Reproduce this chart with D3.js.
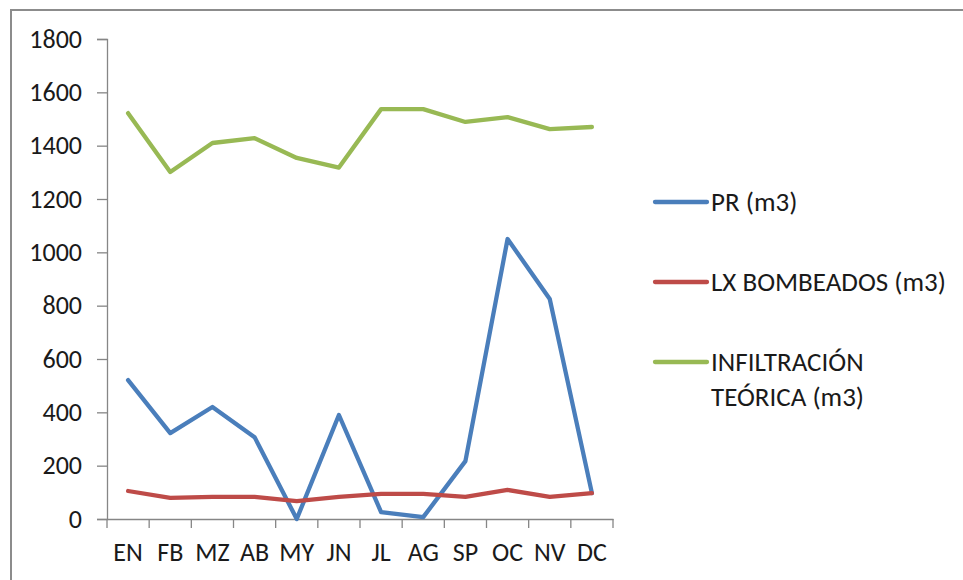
<!DOCTYPE html>
<html>
<head>
<meta charset="utf-8">
<script src="https://cdn.jsdelivr.net/npm/d3@7"></script>
<style>
  html, body { margin: 0; padding: 0; background: #fff; }
  svg { display: block; font-family: Carlito, Calibri, "Open Sans", sans-serif; }
</style>
</head>
<body>
<svg id="chart" width="963" height="580"></svg>
<script>
// Monthly volumes (m3)
const months = ["EN", "FB", "MZ", "AB", "MY", "JN", "JL", "AG", "SP", "OC", "NV", "DC"];
const prValues = [521, 322, 420, 307, 0, 390, 26, 7, 217, 1050, 825, 97];
const lxValues = [105, 79, 83, 83, 67, 83, 94, 94, 83, 109, 83, 97];
const infValues = [1522, 1301, 1410, 1428, 1354, 1318, 1537, 1537, 1489, 1507, 1462, 1470];
const yTicks = [0, 200, 400, 600, 800, 1000, 1200, 1400, 1600, 1800];
const seriesNames = [["PR (m3)"], ["LX BOMBEADOS (m3)"], ["INFILTRACIÓN", "TEÓRICA (m3)"]];
const seriesColors = ["#4A7EBB", "#BE4B48", "#98B954"];

const series = [prValues, lxValues, infValues].map((values, i) => ({
  name: seriesNames[i], color: seriesColors[i], values
}));

const svg = d3.select("#chart");
const fontFamily = 'Carlito, Calibri, "Open Sans", sans-serif';
const axisFontSize = 26;
const legendFontSize = 27;
const textColor = "#1a1a1a";

// Chart area frame (left and top edges visible)
svg.append("path")
  .attr("d", "M11,580 L11,10 L963,10")
  .attr("fill", "none")
  .attr("stroke", "#8C8C8C")
  .attr("stroke-width", 2);

const plot = { left: 107, right: 613, top: 39, bottom: 519 };

const x = d3.scaleBand().domain(months).range([plot.left, plot.right]).paddingInner(0).paddingOuter(0);
const y = d3.scaleLinear().domain([0, 1800]).range([plot.bottom, plot.top]);

const axisColor = "#868686";

// Y axis
const yAxis = svg.append("g")
  .attr("transform", `translate(${plot.left},0)`)
  .call(d3.axisLeft(y).tickValues(yTicks).tickSize(10).tickPadding(15).tickFormat(d3.format("d")));
yAxis.select(".domain").attr("stroke", axisColor).attr("stroke-width", 1.3);
yAxis.selectAll(".tick line").attr("stroke", axisColor).attr("stroke-width", 1.3);
yAxis.selectAll(".tick text")
  .attr("fill", textColor)
  .style("font-size", axisFontSize + "px")
  .style("font-family", fontFamily);

// X axis with tick marks on category boundaries
const xAxis = svg.append("g")
  .attr("transform", `translate(0,${plot.bottom})`)
  .call(d3.axisBottom(x).tickSize(0).tickPadding(24));
xAxis.select(".domain").attr("stroke", axisColor).attr("stroke-width", 1.3);
xAxis.selectAll(".tick text")
  .attr("fill", textColor)
  .style("font-size", axisFontSize + "px")
  .style("font-family", fontFamily);
const boundaries = months.map(m => x(m)).concat([x.range()[1]]);
xAxis.selectAll(".bound")
  .data(boundaries)
  .join("line")
  .attr("class", "bound")
  .attr("x1", d => d).attr("x2", d => d)
  .attr("y1", 0).attr("y2", 9)
  .attr("stroke", axisColor)
  .attr("stroke-width", 1.3);

// Series lines
const line = d3.line()
  .x((d, i) => x(months[i]) + x.bandwidth() / 2)
  .y(d => y(d));

svg.append("g")
  .selectAll("path")
  .data(series)
  .join("path")
  .attr("d", d => line(d.values))
  .attr("fill", "none")
  .attr("stroke", d => d.color)
  .attr("stroke-width", 4.3)
  .attr("stroke-linejoin", "round")
  .attr("stroke-linecap", "round");

// Legend
const legendY = [202, 282, 362];
const legend = svg.append("g");
series.forEach((s, i) => {
  const g = legend.append("g").attr("transform", `translate(655,${legendY[i]})`);
  g.append("line")
    .attr("x1", 0).attr("x2", 52)
    .attr("y1", 0).attr("y2", 0)
    .attr("stroke", s.color)
    .attr("stroke-width", 4.3)
    .attr("stroke-linecap", "round");
  g.selectAll("text")
    .data(s.name)
    .join("text")
    .attr("x", 56)
    .attr("y", (d, j) => j * 35)
    .attr("dy", "0.35em")
    .attr("fill", textColor)
    .style("font-size", legendFontSize + "px")
    .style("font-family", fontFamily)
    .text(d => d);
});
</script>
</body>
</html>
